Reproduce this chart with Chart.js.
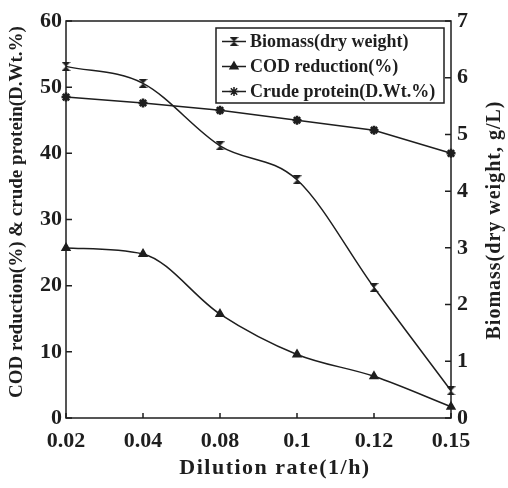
<!DOCTYPE html>
<html>
<head>
<meta charset="utf-8">
<script src="https://cdn.jsdelivr.net/npm/chart.js@4.4.0/dist/chart.umd.min.js"></script>
<style>
  html, body { margin: 0; padding: 0; background: #fff; }
  #wrap { width: 508px; height: 488px; position: relative; }
</style>
</head>
<body>
<div id="wrap"><canvas id="dilutionChart" width="508" height="488"></canvas></div>
<script>
// values
const categories = ['0.02', '0.04', '0.08', '0.1', '0.12', '0.15'];
const biomass = [6.2, 5.9, 4.8, 4.2, 2.3, 0.48];          // g/L, right axis
const codReduction = [25.7, 24.8, 15.7, 9.6, 6.3, 1.7];  // %, left axis
const crudeProtein = [48.5, 47.6, 46.5, 45.0, 43.5, 40.0]; // D.Wt.%, left axis
const leftTicks = [0, 10, 20, 30, 40, 50, 60];
const rightTicks = [0, 1, 2, 3, 4, 5, 6, 7];

const ink = '#1e1e1e';
const serif = "'Liberation Serif', 'DejaVu Serif', serif";

// hourglass marker like the scanned biomass points
function hourglass(size) {
    const c = document.createElement('canvas');
    c.width = size; c.height = size;
    const g = c.getContext('2d');
    g.fillStyle = ink;
    g.beginPath();
    g.moveTo(0, 0); g.lineTo(size, 0); g.lineTo(0, size); g.lineTo(size, size);
    g.closePath();
    g.fill();
    return c;
}

const frameAndTitles = {
    id: 'frameAndTitles',
    afterDatasetsDraw(chart) {
        const ctx = chart.ctx;
        const a = chart.chartArea;
        const sx = chart.scales.x, sl = chart.scales.y, sr = chart.scales.y1;
        ctx.save();
        ctx.strokeStyle = ink;
        ctx.lineWidth = 1.5;
        ctx.strokeRect(a.left, a.top, a.right - a.left, a.bottom - a.top);
        // inward ticks
        ctx.beginPath();
        sl.ticks.forEach((t, i) => {
            const y = sl.getPixelForTick(i);
            ctx.moveTo(a.left, y); ctx.lineTo(a.left + 6, y);
        });
        sr.ticks.forEach((t, i) => {
            const y = sr.getPixelForTick(i);
            ctx.moveTo(a.right, y); ctx.lineTo(a.right - 6, y);
        });
        sx.ticks.forEach((t, i) => {
            const x = sx.getPixelForTick(i);
            ctx.moveTo(x, a.bottom); ctx.lineTo(x, a.bottom - 5);
        });
        ctx.stroke();

        // legend box
        const lx = 216, ly = 28, lw = 228, lh = 75;
        ctx.fillStyle = '#fff';
        ctx.fillRect(lx, ly, lw, lh);
        ctx.strokeRect(lx, ly, lw, lh);
        ctx.font = 'bold 18px ' + serif;
        ctx.letterSpacing = '0px';
        ctx.textBaseline = 'middle';
        ctx.textAlign = 'left';
        chart.data.datasets.forEach((ds, i) => {
            const y = ly + 13.5 + i * 25;
            ctx.strokeStyle = ink;
            ctx.lineWidth = 1.5;
            ctx.beginPath();
            ctx.moveTo(lx + 6, y); ctx.lineTo(lx + 30, y);
            ctx.stroke();
            ctx.fillStyle = ink;
            Chart.helpers.drawPoint(ctx, {
                pointStyle: ds.pointStyle,
                radius: ds.pointRadius,
                borderWidth: ds.pointBorderWidth || 1,
                rotation: 0
            }, lx + 18, y);
            ctx.fillStyle = ink;
            ctx.fillText(ds.label, lx + 34, y + 1);
        });

        // axis titles
        ctx.fillStyle = ink;
        ctx.textAlign = 'center';
        ctx.font = 'bold 22px ' + serif;
        ctx.letterSpacing = '1.5px';
        ctx.fillText('Dilution rate(1/h)', 275, 468);
        ctx.font = 'bold 19px ' + serif;
        ctx.letterSpacing = '0px';
        ctx.save();
        ctx.translate(17, 212);
        ctx.rotate(-Math.PI / 2);
        ctx.fillText('COD reduction(%) & crude protein(D.Wt.%)', 0, 0);
        ctx.restore();
        ctx.font = 'bold 20px ' + serif;
        ctx.letterSpacing = '1px';
        ctx.save();
        ctx.translate(495, 220);
        ctx.rotate(-Math.PI / 2);
        ctx.fillText('Biomass(dry weight, g/L)', 0, 0);
        ctx.restore();
        ctx.restore();
    }
};

new Chart(document.getElementById('dilutionChart'), {
    type: 'line',
    data: {
        labels: categories,
        datasets: [{
            label: 'Biomass(dry weight)',
            data: biomass,
            yAxisID: 'y1',
            borderColor: ink,
            backgroundColor: ink,
            borderWidth: 1.5,
            pointStyle: hourglass(9),
            pointRadius: 4.5,
            cubicInterpolationMode: 'monotone'
        }, {
            label: 'COD reduction(%)',
            data: codReduction,
            yAxisID: 'y',
            borderColor: ink,
            backgroundColor: ink,
            borderWidth: 1.5,
            pointStyle: 'triangle',
            pointRadius: 4.5,
            cubicInterpolationMode: 'monotone'
        }, {
            label: 'Crude protein(D.Wt.%)',
            data: crudeProtein,
            yAxisID: 'y',
            borderColor: ink,
            backgroundColor: ink,
            borderWidth: 1.5,
            pointStyle: 'star',
            pointRadius: 4.5,
            pointBorderWidth: 2.5,
            tension: 0
        }]
    },
    options: {
        responsive: false,
        animation: false,
        layout: { padding: { top: 21, left: 0, right: 0, bottom: 0 } },
        plugins: {
            legend: { display: false },
            tooltip: { enabled: false }
        },
        scales: {
            x: {
                offset: false,
                grid: { display: false, drawTicks: false },
                border: { display: false },
                ticks: { color: ink, padding: 10, maxRotation: 0, font: { family: serif, size: 22, weight: 'bold' } },
                afterFit(s) { s.height = 70; }
            },
            y: {
                position: 'left',
                min: 0, max: 60,
                afterBuildTicks(s) { s.ticks = leftTicks.map(v => ({ value: v })); },
                grid: { display: false, drawTicks: false },
                border: { display: false },
                ticks: { color: ink, padding: 4, font: { family: serif, size: 22, weight: 'bold' } },
                afterFit(s) { s.width = 66; }
            },
            y1: {
                position: 'right',
                min: 0, max: 7,
                afterBuildTicks(s) { s.ticks = rightTicks.map(v => ({ value: v })); },
                grid: { display: false, drawTicks: false },
                border: { display: false },
                ticks: { color: ink, padding: 6, font: { family: serif, size: 22, weight: 'bold' } },
                afterFit(s) { s.width = 57; }
            }
        }
    },
    plugins: [frameAndTitles]
});
</script>
</body>
</html>
